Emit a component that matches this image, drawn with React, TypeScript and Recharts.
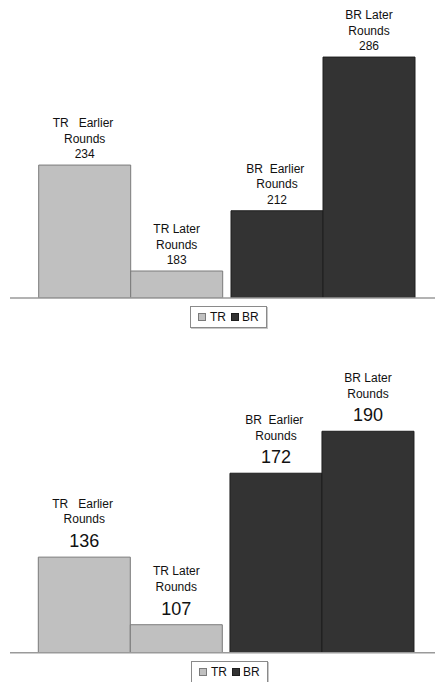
import { BarChart, Bar, XAxis, YAxis, Legend, LabelList, Cell, ReferenceLine } from "recharts";

const groups = ["TR", "BR"];
const earlierNames = ["TR   Earlier ", "BR  Earlier "];
const laterNames = ["TR Later", "BR Later"];
const secondLine = "Rounds";

const topEarlier = [234, 212];
const topLater = [183, 286];
const bottomEarlier = [136, 172];
const bottomLater = [107, 190];

const groupFills = ["#c0c0c0", "#333333"];
const groupStrokes = ["#7a7a7a", "#1e1e1e"];

const FONT = "'Liberation Sans', Arial, sans-serif";

function buildRows(earlier: number[], later: number[]) {
  return groups.map((g, i) => ({ group: g, earlier: earlier[i], later: later[i] }));
}

interface LabelOpts {
  names: string[];
  lineGaps: [number, number, number];
  valueSize: number;
}

function makeLabel({ names, lineGaps, valueSize }: LabelOpts) {
  return (props: any) => {
    const vb = props.viewBox && props.viewBox.width !== undefined ? props.viewBox : props;
    const x = Number(vb.x);
    const y = Number(vb.y);
    const w = Number(vb.width);
    const idx = props.index ?? 0;
    const cx = x + w / 2;
    return (
      <text textAnchor="middle" fontFamily={FONT} fill="#111">
        <tspan x={cx} y={y - lineGaps[0]} fontSize={12} style={{ whiteSpace: "pre" }}>
          {names[idx]}
        </tspan>
        <tspan x={cx} y={y - lineGaps[1]} fontSize={12}>
          {secondLine}
        </tspan>
        <tspan x={cx} y={y - lineGaps[2]} fontSize={valueSize}>
          {props.value}
        </tspan>
      </text>
    );
  };
}

function LegendBox() {
  const sw = (i: number) => (
    <span
      style={{
        display: "inline-block",
        width: 6,
        height: 6,
        background: groupFills[i],
        border: `1px solid ${groupStrokes[i]}`,
      }}
    />
  );
  return (
    <div
      style={{
        display: "flex",
        alignItems: "center",
        boxSizing: "border-box",
        width: 77,
        height: 22,
        border: "1px solid #8a8a8a",
        boxShadow: "1px 1px 0 #c8c8c8",
        background: "#fff",
        paddingLeft: 7,
        fontFamily: FONT,
        fontSize: 12,
        color: "#111",
      }}
    >
      {sw(0)}
      <span style={{ marginLeft: 4, marginRight: 5 }}>{groups[0]}</span>
      {sw(1)}
      <span style={{ marginLeft: 3 }}>{groups[1]}</span>
    </div>
  );
}

interface ChartProps {
  earlier: number[];
  later: number[];
  height: number;
  marginTop: number;
  marginBottom: number;
  domain: [number, number];
  padLeft: number;
  padRight: number;
  catGap: number;
  legendTop: number;
  legendLeft: number;
  lineGaps: [number, number, number];
  valueSize: number;
}

function RoundsChart(p: ChartProps) {
  const rows = buildRows(p.earlier, p.later);
  return (
    <BarChart
      width={435}
      height={p.height}
      data={rows}
      margin={{ top: p.marginTop, right: 0, left: 10, bottom: p.marginBottom }}
      barGap={0}
      barCategoryGap={p.catGap}
    >
      <XAxis dataKey="group" hide padding={{ left: p.padLeft, right: p.padRight }} />
      <YAxis hide domain={p.domain} allowDataOverflow />
      <Legend
        layout="horizontal"
        verticalAlign="middle"
        align="center"
        wrapperStyle={{ top: p.legendTop, left: p.legendLeft, width: "auto", height: "auto" }}
        content={() => <LegendBox />}
      />
      <Bar dataKey="earlier" isAnimationActive={false}>
        {rows.map((_, i) => (
          <Cell key={i} fill={groupFills[i]} stroke={groupStrokes[i]} strokeWidth={1} />
        ))}
        <LabelList
          dataKey="earlier"
          content={makeLabel({ names: earlierNames, lineGaps: p.lineGaps, valueSize: p.valueSize })}
        />
      </Bar>
      <Bar dataKey="later" isAnimationActive={false}>
        {rows.map((_, i) => (
          <Cell key={i} fill={groupFills[i]} stroke={groupStrokes[i]} strokeWidth={1} />
        ))}
        <LabelList
          dataKey="later"
          content={makeLabel({ names: laterNames, lineGaps: p.lineGaps, valueSize: p.valueSize })}
        />
      </Bar>
      <ReferenceLine y={p.domain[0]} stroke="#9a9a9a" strokeWidth={1.5} />
    </BarChart>
  );
}

export default function App() {
  return (
    <div
      style={{
        position: "absolute",
        top: 0,
        left: 0,
        width: 435,
        height: 682,
        overflow: "hidden",
        background: "#fff",
      }}
    >
      <div style={{ position: "absolute", top: 0, left: 0 }}>
        <RoundsChart
          earlier={topEarlier}
          later={topLater}
          height={340}
          marginTop={28}
          marginBottom={42}
          domain={[170, 300]}
          padLeft={24.4}
          padRight={16}
          catGap={4.3}
          legendTop={306}
          legendLeft={190}
          lineGaps={[38, 22.5, 7]}
          valueSize={12}
        />
      </div>
      <div style={{ position: "absolute", top: 340, left: 0 }}>
        <RoundsChart
          earlier={bottomEarlier}
          later={bottomLater}
          height={342}
          marginTop={33}
          marginBottom={29.3}
          domain={[95, 215]}
          padLeft={24.65}
          padRight={17}
          catGap={3.65}
          legendTop={321}
          legendLeft={191}
          lineGaps={[49.4, 33.7, 10]}
          valueSize={18}
        />
      </div>
    </div>
  );
}
